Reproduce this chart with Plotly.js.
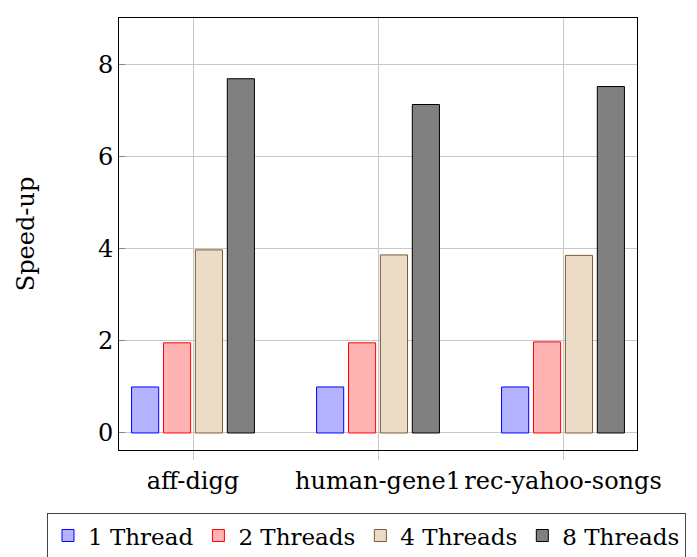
<!DOCTYPE html>
<html><head><meta charset="utf-8">
<script src="https://cdn.plot.ly/plotly-3.0.1.min.js"></script>
<style>html,body{margin:0;padding:0;background:#fff}#chart{width:697px;height:557px}</style>
</head><body><div id="chart"></div>
<script>
const categories = ["aff-digg", "human-gene1", "rec-yahoo-songs"];
const seriesNames = ["1 Thread", "2 Threads", "4 Threads", "8 Threads"];
const thread1 = [1.0, 1.0, 1.0];
const thread2 = [1.96, 1.96, 1.98];
const thread4 = [3.98, 3.87, 3.86];
const thread8 = [7.70, 7.14, 7.53];
const yTicks = [0, 2, 4, 6, 8];

const fills = ["rgb(179,179,255)", "rgb(255,179,179)", "rgb(235,219,199)", "rgb(128,128,128)"];
const lines = ["rgb(0,0,255)", "rgb(255,0,0)", "rgb(125,90,50)", "rgb(0,0,0)"];
const values = [thread1, thread2, thread4, thread8];

const traces = values.map((v, i) => ({
  type: "bar", x: categories, y: v, name: seriesNames[i],
  marker: {color: fills[i], line: {color: lines[i], width: 1}}
}));

const fam = "'DejaVu Serif', serif";
const font = {family: fam, size: 24, color: "#000"};
const legFont = {family: fam, size: 23, color: "#000"};
const layout = {
  width: 697, height: 557,
  margin: {l: 119, r: 60, t: 18, b: 107, autoexpand: false},
  paper_bgcolor: "#fff", plot_bgcolor: "#fff",
  font: font,
  barmode: "group", bargap: 0.31, bargroupgap: 0.15,
  showlegend: true,
  legend: {orientation: "h", x: -0.139, xanchor: "left", y: -0.146, yanchor: "top",
    bordercolor: "#444", borderwidth: 1, font: legFont, itemwidth: 30,
    traceorder: "normal", tracegroupgap: 0},
  xaxis: {type: "category", range: [-0.4, 2.4], showgrid: true, gridcolor: "#c8c8c8",
    ticks: "outside", ticklen: 9, tickcolor: "#c8c8c8", showline: true, linecolor: "#000",
    linewidth: 1, mirror: true, zeroline: false, tickfont: font},
  yaxis: {range: [-0.37, 9.02], tickvals: yTicks, showgrid: true, gridcolor: "#c8c8c8",
    ticks: "inside", ticklen: 6, tickcolor: "#888", showline: true, linecolor: "#000",
    linewidth: 1, mirror: true, zeroline: false, tickfont: font, automargin: true,
    title: {text: "Speed-up", font: font, standoff: 56}}
};
Plotly.newPlot("chart", traces, layout, {displayModeBar: false, staticPlot: true});
</script></body></html>
